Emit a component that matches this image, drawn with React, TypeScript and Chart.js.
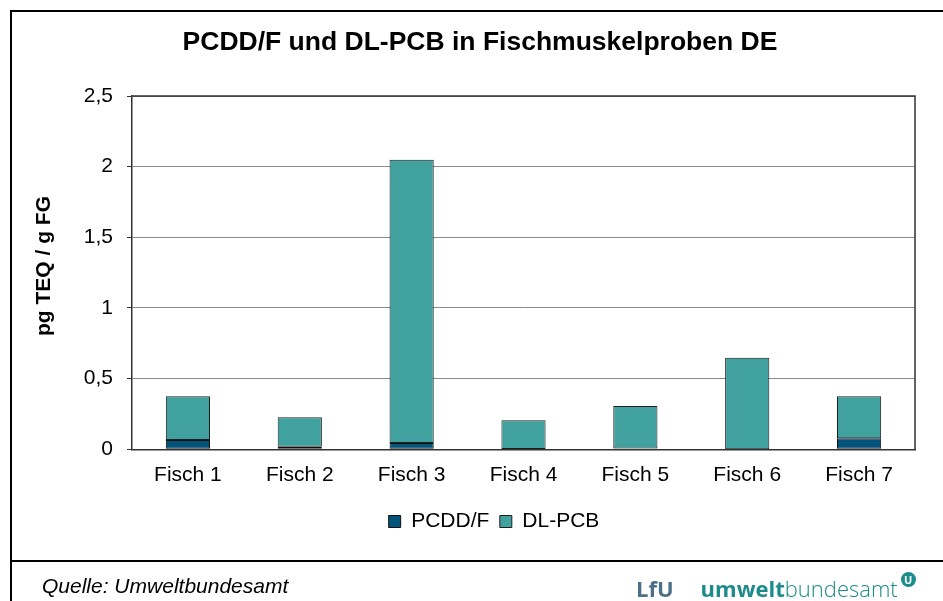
import React, { useEffect, useRef } from "react";
import { Chart, registerables } from "chart.js";

Chart.register(...registerables);

const categories = ["Fisch 1", "Fisch 2", "Fisch 3", "Fisch 4", "Fisch 5", "Fisch 6", "Fisch 7"];
const pcddValues = [0.065, 0.018, 0.045, 0.003, 0.006, 0.001, 0.078];
const dlpcbValues = [0.31, 0.209, 2.004, 0.202, 0.301, 0.646, 0.297];
const yTickLabels = ["0", "0,5", "1", "1,5", "2", "2,5"];
const titleText = "PCDD/F und DL-PCB in Fischmuskelproben DE";
const yAxisTitle = "pg TEQ / g FG";
const seriesNames = ["PCDD/F", "DL-PCB"];

const FONT = "'Liberation Sans', Arial, sans-serif";

const decorPlugin = {
  id: "decor",
  afterDraw(chart: any) {
    const ctx = chart.ctx;
    const a = chart.chartArea;
    ctx.save();
    // plot frame (top + right)
    ctx.strokeStyle = "#333";
    ctx.lineWidth = 1.5;
    ctx.beginPath();
    ctx.moveTo(a.left, a.top);
    ctx.lineTo(a.right, a.top);
    ctx.lineTo(a.right, a.bottom);
    ctx.stroke();
    // outer frame
    ctx.strokeStyle = "#000";
    ctx.lineWidth = 2;
    ctx.beginPath();
    ctx.moveTo(943, 11);
    ctx.lineTo(11, 11);
    ctx.lineTo(11, 601);
    ctx.moveTo(11, 561);
    ctx.lineTo(943, 561);
    ctx.stroke();
    // title
    ctx.fillStyle = "#000";
    ctx.font = "bold 26.5px " + FONT;
    ctx.textAlign = "center";
    ctx.textBaseline = "middle";
    ctx.fillText(titleText, 480, 43);
    // y axis title
    ctx.translate(44, 266);
    ctx.rotate(-Math.PI / 2);
    ctx.font = "bold 21px " + FONT;
    ctx.fillText(yAxisTitle, 0, 0);
    ctx.restore();
  },
};

export default function App() {
  const ref = useRef<HTMLCanvasElement | null>(null);
  useEffect(() => {
    if (!ref.current) return;
    const chart = new Chart(ref.current, {
      type: "bar",
      data: {
        labels: categories,
        datasets: [
          {
            label: seriesNames[0],
            data: pcddValues,
            backgroundColor: "#03537A",
            borderColor: "#111",
            borderWidth: 1,
            borderSkipped: false,
            categoryPercentage: 1,
            barPercentage: 0.395,
          },
          {
            label: seriesNames[1],
            data: dlpcbValues,
            backgroundColor: "#41A19E",
            borderColor: "#1e1e1e",
            borderWidth: 1,
            borderSkipped: false,
            categoryPercentage: 1,
            barPercentage: 0.395,
          },
        ],
      },
      options: {
        responsive: false,
        animation: false,
        layout: { padding: { left: 73, right: 28, top: 96, bottom: 59 } },
        plugins: {
          title: { display: false },
          tooltip: { enabled: false },
          legend: {
            position: "bottom",
            labels: {
              boxWidth: 12,
              boxHeight: 12,
              padding: 10.5,
              color: "#000",
              font: { family: FONT, size: 21 },
            },
          },
        },
        scales: {
          x: {
            stacked: true,
            grid: { display: false, drawTicks: false },
            border: { display: true, color: "#333", width: 1.5 },
            ticks: { color: "#000", padding: 13, font: { family: FONT, size: 21 } },
          },
          y: {
            stacked: true,
            min: 0,
            max: 2.5,
            afterFit(scale: any) {
              scale.width = 59;
            },
            grid: { color: "#8a8a8a", lineWidth: 1, tickLength: 5, tickColor: "#333" },
            border: { display: true, color: "#333", width: 1.5 },
            ticks: {
              stepSize: 0.5,
              color: "#000",
              padding: 14,
              font: { family: FONT, size: 21 },
              callback: (_v: any, i: number) => yTickLabels[i],
            },
          },
        },
      },
      plugins: [decorPlugin],
    });
    return () => chart.destroy();
  }, []);

  return (
    <div style={{ position: "absolute", left: 0, top: 0, width: 943, height: 601, background: "#fff", overflow: "hidden" }}>
      <canvas ref={ref} width={943} height={601} style={{ display: "block" }} />
      <div
        style={{
          position: "absolute",
          left: 42,
          top: 575,
          fontFamily: FONT,
          fontStyle: "italic",
          fontSize: 21,
          lineHeight: "22px",
          color: "#000",
          whiteSpace: "nowrap",
        }}
      >
        Quelle: Umweltbundesamt
      </div>
      <div
        style={{
          position: "absolute",
          left: 636,
          top: 572,
          fontFamily: "'Open Sans', sans-serif",
          fontSize: 22,
          lineHeight: "28px",
          whiteSpace: "nowrap",
          display: "flex",
          alignItems: "flex-start",
        }}
      >
        <span style={{ color: "#4d6f87", fontWeight: 700, marginRight: 27, marginTop: 2 }}>LfU</span>
        <span style={{ color: "#1c8b8b", fontWeight: 700, marginTop: 2 }}>umwelt</span>
        <span style={{ color: "#1c8b8b", fontWeight: 300, marginTop: 2 }}>bundesamt</span>
        <span
          style={{
            display: "inline-block",
            width: 15,
            height: 15,
            borderRadius: 8,
            background: "#1c8b8b",
            color: "#fff",
            fontSize: 11,
            fontWeight: 700,
            lineHeight: "15px",
            textAlign: "center",
            marginLeft: 3,
            marginTop: 0,
          }}
        >
          U
        </span>
      </div>
    </div>
  );
}
